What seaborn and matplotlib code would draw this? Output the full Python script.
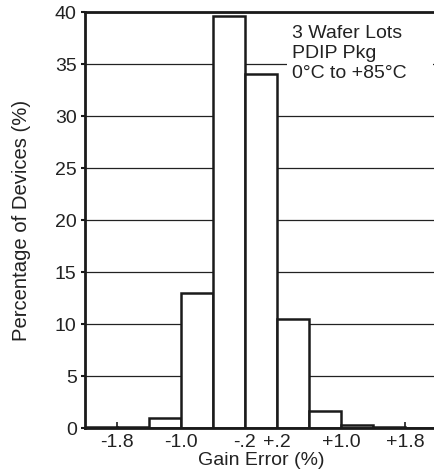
import numpy as np
import matplotlib
matplotlib.use('Agg')
import matplotlib.pyplot as plt
import seaborn as sns
from matplotlib.patches import Rectangle

# ------------------------------------------------------
# DATA
# ------------------------------------------------------

bin_edges = [-2.2, -1.8, -1.4, -1.0, -0.6, -0.2, 0.2, 0.6, 1.0, 1.4, 1.8, 2.2]
bin_centers = [-2.0, -1.6, -1.2, -0.8, -0.4, 0.0, 0.4, 0.8, 1.2, 1.6, 2.0]
pct_devices = [0.1, 0.1, 1.0, 13.0, 39.6, 34.0, 10.5, 1.6, 0.25, 0.1, 0.0]

tick_pos = [-1.8, -1.0, -0.2, 0.2, 1.0, 1.8]
tick_labels = ['-1.8', '-1.0', '-.2', '+.2', '+1.0', '+1.8']

note = '3 Wafer Lots\nPDIP Pkg\n0°C to +85°C'

# ------------------------------------------------------
# PLOT
# ------------------------------------------------------

sns.set_style('white')
plt.rcParams['font.family'] = ['Liberation Sans', 'DejaVu Sans']
plt.rcParams['font.size'] = 14

fig = plt.figure(figsize=(4.35, 4.74), dpi=100)
ax = fig.add_axes([0.1954, 0.097, 0.809, 0.8776])

sns.histplot(x=bin_centers, weights=pct_devices, bins=bin_edges, ax=ax,
             color='white', edgecolor='#1a1a1a', linewidth=1.8, alpha=1)

ax.set_xlim(-2.2, 2.2)
ax.set_ylim(0, 40)
ax.set_yticks(range(0, 41, 5))
ax.set_xticks(tick_pos)
ax.set_xticklabels(tick_labels)

# Horizontal grid behind the bars
ax.set_axisbelow(True)
ax.yaxis.grid(True, color='#222222', linewidth=0.9)

# White patch behind the note
ax.add_patch(Rectangle((0.32, 31.0), 1.83, 8.8, facecolor='white',
                       edgecolor='none', zorder=1.5))
ax.text(0.385, 38.75, note, ha='left', va='top', linespacing=1.24,
        color='#222222', zorder=3)

for s in ['left', 'bottom', 'top', 'right']:
    ax.spines[s].set_color('#1a1a1a')
    ax.spines[s].set_linewidth(2)

ax.tick_params(axis='y', direction='out', length=3, width=1.5, pad=3,
               left=True, colors='#1a1a1a', labelcolor='#222222')
ax.tick_params(axis='x', direction='in', length=4, width=1.2, pad=4,
               bottom=True, colors='#1a1a1a', labelcolor='#222222')

ax.set_xlabel('Gain Error (%)', labelpad=1, color='#222222')
ax.set_ylabel('Percentage of Devices (%)', labelpad=17, fontsize=14.6,
              color='#222222')

plt.savefig('out.png', dpi=100)
plt.close('all')
